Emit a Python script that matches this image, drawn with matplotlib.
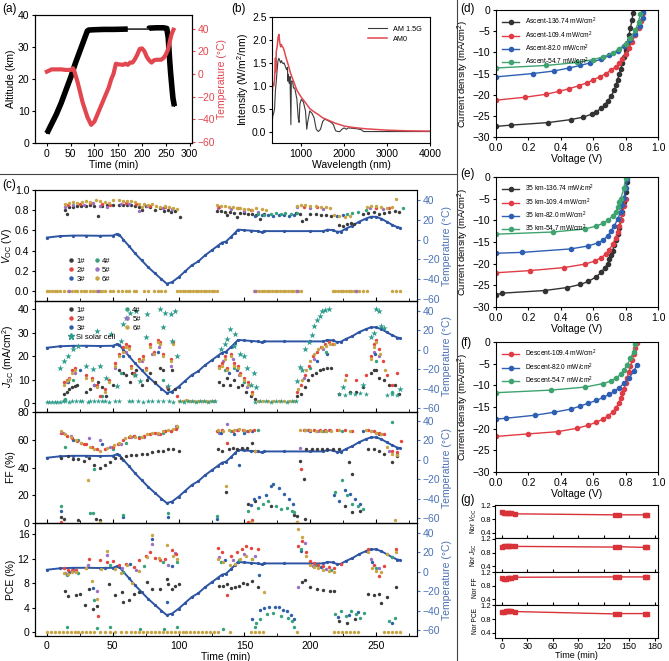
import numpy as np
import matplotlib
matplotlib.use("Agg")
import matplotlib.pyplot as plt
from matplotlib.lines import Line2D

plt.rcParams['font.family'] = ['Liberation Sans', 'DejaVu Sans']
plt.rcParams['mathtext.fontset'] = 'custom'
plt.rcParams['mathtext.rm'] = 'Liberation Sans'
plt.rcParams['mathtext.it'] = 'Liberation Sans:italic'
plt.rcParams['axes.linewidth'] = 0.8

# ---------------- (a) flight profile ----------------
alt_t = [0, 5, 10, 20, 30, 40, 50, 60, 70, 80, 85, 88, 100, 120, 140, 170, 190, 213, 215, 230, 245, 252, 255, 258, 260, 263, 265, 268]
alt_km = [3, 4.5, 6, 9, 12.5, 16.5, 20.5, 25, 29, 33, 35, 35.3, 35.4, 35.5, 35.5, 35.6, np.nan, 35.6, 35.9, 36, 36, 35.8, 33, 26, 22, 17, 14, 11.5]
temp_a_t = [0, 5, 10, 20, 30, 40, 50, 55, 58, 65, 75, 85, 93, 100, 110, 120, 130, 135, 140, 145, 150, 160, 165, 170, 175, 180, 185, 190, 195, 200, 205, 210, 215, 220, 225, 230, 240, 245, 250, 255, 258, 262, 266]
temp_a = [2, 3, 4, 4, 4, 3.5, 3.5, 5, 2, -8, -25, -38, -45, -42, -32, -22, -12, -5, 0, 9, 8.5, 8, 9, 8, 10, 10, 13, 17, 22, 22.5, 20, 15, 12, 10, 12, 12.5, 12.5, 14, 17, 22, 28, 35, 39]

# ---------------- (b) spectra ----------------
am15_wl = [300, 320, 340, 360, 380, 400, 420, 440, 460, 480, 500, 520, 540, 560, 580, 600, 620, 640, 660, 680, 690, 700, 720, 740, 760, 770, 800, 820, 850, 900, 930, 950, 970, 1000, 1050, 1100, 1130, 1150, 1200, 1250, 1300, 1350, 1400, 1450, 1500, 1550, 1600, 1700, 1750, 1800, 1850, 1900, 1950, 2000, 2050, 2100, 2200, 2300, 2400, 2450, 2500, 3000, 4000]
am15_I = [0.0, 0.15, 0.35, 0.4, 0.5, 0.9, 1.1, 1.35, 1.55, 1.6, 1.55, 1.5, 1.55, 1.5, 1.48, 1.5, 1.45, 1.4, 1.35, 1.4, 1.1, 1.25, 1.05, 1.2, 0.15, 1.1, 1.1, 0.95, 0.95, 0.7, 0.3, 0.2, 0.6, 0.7, 0.65, 0.45, 0.05, 0.2, 0.45, 0.4, 0.3, 0.05, 0.0, 0.05, 0.22, 0.27, 0.25, 0.2, 0.15, 0.02, 0.0, 0.0, 0.05, 0.08, 0.05, 0.08, 0.07, 0.06, 0.04, 0.0, 0.0, 0.0, 0.0]
am0_wl = [280, 300, 320, 340, 360, 380, 400, 410, 420, 440, 460, 480, 500, 520, 540, 560, 580, 600, 650, 700, 750, 800, 900, 1000, 1100, 1200, 1300, 1400, 1500, 1600, 1700, 1800, 2000, 2200, 2500, 3000, 3500, 4000]
am0_I = [0.2, 0.5, 0.75, 1.05, 1.0, 1.15, 1.6, 1.3, 1.75, 1.85, 2.05, 2.12, 1.95, 1.85, 1.9, 1.85, 1.83, 1.78, 1.6, 1.45, 1.28, 1.15, 0.9, 0.75, 0.63, 0.5, 0.43, 0.37, 0.3, 0.26, 0.22, 0.18, 0.12, 0.09, 0.06, 0.03, 0.015, 0.01]

# ---------------- (c) in-flight parameters ----------------
temp_c_t = [0, 10, 20, 30, 40, 50, 53, 55, 58, 62, 67, 72, 77, 82, 87, 91, 95, 100, 105, 110, 115, 120, 125, 130, 133, 136, 140, 143, 145, 150, 155, 160, 163, 165, 180, 200, 210, 213, 217, 220, 223, 227, 232, 237, 242, 246, 250, 254, 258, 262, 266, 268]
temp_c = [2, 3.5, 4, 4, 3.8, 4, 5.5, 5, 0, -6, -14, -21, -28, -34, -40, -44.5, -43, -38, -32, -26, -22, -16, -11, -6, -3, -2, 3, 7, 10, 9.5, 9, 8.5, 7.5, 8.5, 8.5, 8.5, 8.5, 10, 9.5, 8, 8, 11, 14, 18, 21, 23, 23, 21, 18, 15, 12.5, 12]

series_names = ['1#', '2#', '3#', '4#', '5#', '6#']
series_colors = ['#3b3b3b', '#e5453e', '#2f5fa8', '#35a27c', '#9a6fc4', '#c9a443']
si_color = '#2e9c8c'
temp_color = '#2d55a3'

voc_1 = [(14, 0.80), (15, 0.76), (17, 0.83), (20, 0.83), (23, 0.84), (26, 0.84), (30, 0.84), (33, 0.85), (36, 0.84), (39, 0.74), (42, 0.84), (46, 0.85), (50, 0.85), (55, 0.85), (58, 0.85), (61, 0.85), (64, 0.85), (67, 0.84), (70, 0.83), (72, 0.80), (75, 0.84), (78, 0.83), (82, 0.80), (86, 0.82), (89, 0.79), (92, 0.80), (94, 0.78), (97, 0.79), (101, 0.73),
         (129, 0.79), (132, 0.79), (135, 0.78), (137, 0.75), (139, 0.78), (142, 0.77), (144, 0.73), (147, 0.77), (150, 0.77), (153, 0.76), (156, 0.76), (159, 0.75), (162, 0.71), (165, 0.76),
         (189, 0.77), (192, 0.76), (194, 0.69), (197, 0.71), (200, 0.76), (204, 0.76), (208, 0.75), (212, 0.75), (216, 0.74), (222, 0.65), (225, 0.64), (228, 0.66), (231, 0.67), (233, 0.66),
         (240, 0.76), (244, 0.77), (248, 0.78), (252, 0.76), (256, 0.77), (260, 0.78), (264, 0.79), (267, 0.78)]
voc_2 = [(16, 0.85), (25, 0.86), (33, 0.87), (42, 0.86), (48, 0.85), (60, 0.87), (68, 0.86), (78, 0.84), (90, 0.83), (131, 0.83), (145, 0.82), (155, 0.80), (195, 0.83), (205, 0.83), (250, 0.82), (260, 0.82)]
voc_3 = [(158, 0.74), (163, 0.75), (168, 0.75), (172, 0.74), (176, 0.75), (180, 0.75), (184, 0.74), (188, 0.75), (220, 0.74), (225, 0.75)]
voc_4 = [(160, 0.76), (165, 0.75), (170, 0.76), (174, 0.77), (178, 0.76), (181, 0.77), (185, 0.76), (190, 0.77), (228, 0.76), (232, 0.77), (236, 0.78), (242, 0.80), (270, 0.82)]
voc_5 = [(14, 0.83), (20, 0.85), (28, 0.85), (35, 0.87), (40, 0.84), (46, 0.83), (56, 0.86), (62, 0.86), (70, 0.79), (76, 0.84), (88, 0.82), (95, 0.81), (130, 0.82), (140, 0.81), (150, 0.79), (160, 0.78), (190, 0.83), (200, 0.82), (210, 0.81), (245, 0.82), (255, 0.81)]
voc_6 = [(14, 0.86), (17, 0.87), (20, 0.88), (23, 0.87), (27, 0.88), (30, 0.89), (33, 0.88), (37, 0.90), (40, 0.89), (44, 0.88), (47, 0.87), (50, 0.90), (55, 0.90), (58, 0.89), (61, 0.89), (64, 0.89), (67, 0.88), (70, 0.86), (72, 0.83), (74, 0.86), (77, 0.85), (80, 0.86), (83, 0.84), (86, 0.83), (90, 0.84), (93, 0.83), (96, 0.82), (99, 0.81),
         (129, 0.85), (132, 0.84), (135, 0.84), (138, 0.83), (141, 0.83), (144, 0.82), (147, 0.82), (150, 0.81), (153, 0.81), (156, 0.80), (159, 0.82), (163, 0.81), (166, 0.80),
         (190, 0.84), (193, 0.85), (196, 0.85), (200, 0.84), (204, 0.84), (208, 0.83), (212, 0.83), (215, 0.82), (218, 0.75), (222, 0.74), (226, 0.73), (230, 0.74),
         (243, 0.83), (246, 0.84), (250, 0.84), (254, 0.83), (258, 0.82), (262, 0.83), (265, 0.91)]
voc_zero_t = [0, 2, 4, 6, 8, 10, 13, 16, 19, 21, 23, 26, 28, 30, 33, 35, 37, 40, 42, 44, 48, 50, 54, 57, 60, 62, 66, 68, 74, 77, 81, 84, 87, 90,
              99, 101, 103, 105, 107, 109, 111, 113, 115, 117, 119, 121, 123, 125, 127, 129,
              157, 159, 161, 163, 165, 167, 169, 171, 173, 175, 177, 179, 181, 183, 185, 187, 189, 191, 193,
              217, 219, 221, 223, 225, 227, 229, 231, 233, 235, 237, 240, 243, 262, 265, 268]
voc_zero_purple_t = [17, 39, 158, 190, 235]

jsc_1 = [(13, 4), (15, 5), (17, 6), (19, 7), (21, 7.5), (23, 8), (30, 5), (33, 6), (36, 8), (39, 9), (42, 7), (45, 3), (50, 8), (55, 14), (58, 13), (60, 12), (63, 9), (65, 13), (68, 14), (72, 8), (76, 10), (78, 13), (82, 9), (86, 15), (88, 14), (92, 6), (95, 14), (97, 6),
         (131, 9), (134, 8), (137, 11), (139, 8), (142, 10), (145, 7), (148, 8), (151, 5), (155, 3), (158, 2),
         (190, 3), (193, 4), (196, 7), (198, 10), (201, 12), (204, 13), (207, 14), (210, 14.5), (213, 15), (216, 15),
         (222, 4), (230, 5), (235, 5), (240, 7), (246, 13), (248, 14), (250, 14), (252, 11), (256, 10), (260, 8), (264, 8), (267, 4)]
jsc_2 = [(13, 9), (15, 10), (17, 11), (19, 14), (21, 15), (30, 12), (34, 11), (38, 8), (40, 3), (44, 6), (47, 10), (52, 17), (55, 21), (58, 24), (60, 25), (62, 24.5), (64, 16), (66, 13), (70, 19), (73, 20), (75, 15), (78, 25), (81, 22), (84, 27), (86, 26), (88, 21), (91, 7), (94, 19), (96, 26), (99, 3),
         (131, 16), (133, 17), (135, 20), (137, 15), (140, 21), (142, 17), (145, 16), (147, 13), (150, 11), (153, 9), (156, 5),
         (190, 5), (193, 8), (196, 12), (199, 16), (202, 20), (205, 22), (208, 24), (211, 25), (214, 26), (217, 25),
         (227, 12), (235, 10), (242, 12), (246, 20), (248, 25), (250, 27), (252, 23), (255, 18), (258, 12), (262, 8), (266, 13)]
jsc_3 = [(16, 9), (25, 14), (58, 20), (84, 22), (138, 13), (144, 14), (205, 18), (213, 21), (249, 21)]
jsc_4 = [(14, 2), (20, 10), (42, 3), (56, 13), (67, 12), (88, 10), (135, 14), (142, 15), (150, 9), (200, 15), (212, 22), (250, 18), (262, 5)]
jsc_5 = [(15, 9), (21, 13), (36, 8), (52, 15), (60, 22), (72, 18), (80, 21), (85, 24), (94, 16), (134, 18), (141, 19), (146, 12), (152, 7), (195, 11), (203, 19), (210, 23), (248, 22), (252, 20)]
jsc_6 = [(13, 8), (15, 9.5), (17, 10.5), (19, 13), (21, 14), (30, 11), (34, 10), (38, 7), (44, 5), (47, 9), (52, 16), (55, 20), (58, 22), (60, 24), (62, 23), (64, 15), (66, 12), (70, 18), (73, 19), (75, 14), (78, 24), (81, 21), (84, 26), (86, 25), (88, 20), (94, 18), (96, 25),
         (131, 15), (133, 16), (135, 19), (137, 14), (140, 20), (142, 16), (145, 15), (147, 12), (150, 10), (153, 8), (156, 4),
         (191, 6), (194, 10), (197, 14), (200, 18), (203, 21), (206, 23), (209, 24), (212, 24.5), (215, 25), (218, 25),
         (226, 10), (246, 19), (248, 24), (250, 26), (253, 21), (257, 14)]
jsc_6_base = [(100, 1.2), (103, 1.0), (106, 1.3), (109, 1.1), (112, 1.0), (115, 1.2), (118, 1.1), (121, 1.0), (124, 1.2), (127, 1.1), (160, 1.0), (164, 1.2), (168, 0.9), (172, 1.1), (176, 1.0), (180, 1.1), (184, 0.9), (188, 1.0)]
jsc_si = [(10, 15), (13, 18), (16, 20), (20, 23), (24, 24.5), (30, 16), (35, 14.5), (38, 30.5), (40, 16), (45, 11), (49, 29.5), (53, 7.5), (56, 26.5), (58, 33.5), (60, 36), (63, 38.5), (67, 12), (68, 39), (71, 9.5), (75, 28), (76, 38), (86, 40), (88, 32.5), (90, 38.5), (92, 7.5), (94, 38), (95, 26.5), (97, 39), (99, 20),
          (132, 23), (135, 25), (137, 27.5), (139, 31.7), (142, 24.5), (143, 29.5), (147, 21), (150, 20), (152, 15), (155, 8), (157, 13), (159, 7),
          (190, 9.5), (192, 15.5), (194, 14), (196, 23), (199, 26), (201, 29), (203, 33), (205, 35.5), (207, 37), (209, 39), (211, 39.5), (214, 40),
          (225, 7), (240, 8), (246, 28), (248, 29.8), (250, 40), (252, 39), (254, 33), (256, 32), (268, 6)]
jsc_si_base = [(0, 0.5), (2, 0.6), (4, 0.5), (6, 0.7), (8, 0.8), (10, 0.6), (12, 0.9), (14, 1.0), (17, 0.8), (19, 0.9), (22, 1.0), (25, 0.9), (27, 1.0), (31, 0.8), (33, 0.9), (36, 1.0), (39, 0.9), (42, 0.9), (44, 1.0), (47, 0.8), (52, 1.1), (55, 0.9), (62, 1.0), (65, 0.9), (69, 1.0), (73, 0.8), (77, 1.0), (80, 0.9), (84, 1.0), (88, 0.9), (93, 1.0), (96, 0.8),
               (101, 0.9), (104, 0.8), (107, 1.0), (110, 0.9), (113, 0.8), (116, 1.0), (119, 0.9), (122, 0.8), (125, 1.0), (128, 0.9), (158, 0.8), (162, 0.9), (166, 1.0), (170, 0.8), (174, 0.9), (178, 1.0), (182, 0.8), (186, 0.9), (189, 1.0),
               (222, 4.2), (226, 3.8), (230, 4.5), (234, 3.9), (238, 4.3), (242, 4.0), (258, 3.5), (262, 4.2), (266, 3.7)]

ff_1 = [(11, 47), (16, 48), (20, 46), (24, 46), (28, 45), (32, 47), (36, 42), (40, 40), (44, 42), (48, 44), (52, 47), (56, 47), (60, 48), (64, 49), (68, 49), (72, 50), (76, 50), (80, 51), (84, 52), (88, 52), (92, 53), (96, 53), (100, 52),
        (130, 53), (133, 52), (136, 22), (138, 53), (141, 54), (144, 53), (148, 54), (152, 54), (156, 58), (158, 52),
        (192, 45), (195, 32), (197, 53), (201, 53), (205, 53), (209, 53), (213, 53), (217, 53), (222, 53), (229, 44), (232, 35), (244, 53), (248, 53), (252, 52), (256, 50), (262, 44), (266, 48),
        (11, 4), (13, 3), (24, 2), (37, 3), (40, 2), (153, 14), (158, 16), (170, 12), (188, 6), (190, 5), (196, 3), (226, 12), (232, 8), (238, 9)]
ff_2 = [(11, 65), (15, 63), (19, 61), (23, 59), (28, 57), (30, 57), (34, 55), (38, 53), (44, 53), (50, 55), (54, 57), (58, 60), (62, 62), (66, 63), (70, 61), (74, 63), (78, 64), (82, 65), (86, 64), (90, 66), (94, 66), (98, 68),
        (129, 66), (133, 67), (137, 58), (141, 66), (145, 67), (149, 67), (153, 66), (157, 67),
        (193, 39), (195, 67), (199, 67), (203, 67), (207, 67), (211, 67), (215, 67), (220, 67), (226, 67), (232, 66), (244, 67), (248, 66), (252, 65), (256, 64), (262, 52), (266, 51), (269, 59),
        (11, 1), (153, 1), (156, 2), (190, 1)]
ff_3 = [(20, 60), (42, 57), (66, 63), (90, 66), (132, 65), (142, 64), (146, 42), (150, 65), (156, 66), (200, 66), (212, 66), (240, 66), (252, 64),
        (11, 9), (58, 4), (92, 4), (129, 3), (155, 13), (157, 17), (161, 19), (166, 20), (170, 27), (172, 28), (176, 25), (180, 21), (184, 17), (187, 14), (218, 20), (222, 16), (226, 24), (230, 21), (234, 17), (238, 14)]
ff_4 = [(14, 55), (24, 60), (36, 39), (50, 53), (60, 58), (70, 62), (88, 65), (99, 69), (130, 66), (140, 66), (150, 66), (160, 67), (196, 67), (210, 66), (224, 66), (250, 65), (262, 73), (266, 50),
        (11, 12), (33, 7), (35, 7), (58, 6), (92, 7), (129, 5), (153, 9), (160, 11), (164, 14), (168, 16), (174, 12), (178, 10), (182, 11), (186, 9), (188, 8), (219, 22), (224, 31), (228, 20), (232, 14), (236, 12), (240, 10)]
ff_5 = [(12, 65), (18, 63), (26, 58), (32, 61), (40, 60), (48, 55), (56, 57), (64, 62), (74, 62), (84, 64), (94, 66), (98, 70), (131, 65), (137, 71), (144, 67), (152, 66), (192, 54), (198, 67), (206, 66), (214, 67), (246, 66), (254, 64), (260, 52)]
ff_6 = [(11, 66), (14, 64), (18, 62), (22, 60), (26, 58), (31, 31), (33, 55), (36, 53), (40, 52), (46, 54), (51, 56), (55, 58), (59, 61), (63, 63), (67, 62), (72, 62), (76, 64), (80, 65), (84, 65), (88, 66), (92, 67), (96, 68), (99, 70),
        (130, 67), (134, 66), (136, 27), (138, 67), (142, 67), (146, 68), (150, 67), (154, 67), (158, 52),
        (192, 67), (196, 67), (200, 67), (204, 66), (208, 66), (212, 66), (216, 66), (222, 67), (230, 66), (242, 67), (246, 66), (250, 65), (254, 64), (258, 55), (262, 50), (266, 49),
        (40, 1), (155, 0.5), (190, 0.5), (264, 2)]

pce_1 = [(14, 6.7), (16, 5.9), (22, 6.1), (25, 6.3), (29, 4.5), (32, 7.0), (35, 3.8), (38, 4.3), (47, 7.8), (52, 6.1), (57, 6.6), (58, 5.0), (62, 5.2), (66, 6.3), (70, 6.6), (76, 8.2), (80, 7.1), (86, 7.1), (91, 8.7), (92, 7.8), (95, 7.0), (97, 7.6), (100, 7.8),
         (131, 7.6), (134, 7.5), (137, 7.8), (140, 7.2), (143, 7.3), (146, 7.6), (149, 8.0), (152, 7.8), (156, 8.4), (160, 7.4),
         (194, 8.2), (196, 8.5), (200, 7.4), (205, 7.0), (210, 6.9), (215, 6.8), (218, 6.7), (222, 1.8), (228, 1.5), (234, 2.2), (244, 6.2), (248, 6.1), (252, 6.2), (254, 4.7), (258, 5.8), (265, 7.4)]
pce_2 = [(13, 10.4), (16, 10.2), (19, 10.1), (22, 10.2), (32, 11.9), (39, 2.6), (40, 11.8), (46, 11.4), (50, 11.6), (55, 11.0), (60, 11.2), (66, 10.6), (70, 11.8), (75, 12.5), (78, 13.0), (82, 12.1), (86, 11.7), (90, 12.0), (95, 13.4), (98, 12.8),
         (130, 13.8), (133, 13.0), (137, 6.0), (140, 12.5), (144, 13.0), (148, 13.5), (151, 14.0), (155, 13.7), (160, 13.6),
         (191, 14.0), (194, 14.9), (197, 13.0), (200, 11.6), (203, 11.3), (206, 11.0), (210, 10.8), (214, 10.6), (218, 10.4), (223, 11.2), (244, 13.5), (248, 11.0), (252, 9.2), (256, 10.8), (265, 13.6)]
pce_3 = [(17, 9.8), (35, 7.2), (44, 10.5), (63, 11.2), (80, 15.2), (91, 4.9), (95, 10.8), (135, 11.8), (145, 11.4), (161, 9.4), (193, 13.3), (208, 10.6), (247, 11.5),
         (156, 2.2), (162, 3.6), (165, 3.9), (169, 4.1), (173, 4.1), (176, 4.1), (179, 3.7), (182, 3.4), (185, 2.8), (188, 2.2), (221, 2.5), (229, 2.8), (236, 3.3), (262, 1.5)]
pce_4 = [(15, 9.4), (24, 9.6), (36, 5.3), (48, 11.0), (58, 9.8), (74, 10.8), (88, 11.5), (99, 11.4), (132, 11.5), (146, 11.8), (156, 11.9), (193, 13.5), (204, 10.9), (216, 10.2), (250, 10.4), (262, 12.2),
         (15, 0.9), (38, 0.7), (48, 0.8), (71, 0.5), (89, 0.6), (99, 0.8), (134, 0.6), (158, 0.8), (159, 1.5), (162, 2.2), (167, 3.0), (172, 3.2), (178, 2.6), (183, 2.4), (186, 1.8), (188, 0.9), (219, 3.0), (223, 3.4), (227, 2.6), (231, 3.5), (235, 3.0), (238, 2.4), (241, 3.1), (260, 1.8), (264, 2.3)]
pce_5 = [(14, 9.6), (21, 10.0), (31, 11), (38, 6.8), (46, 12.6), (57, 10.4), (68, 10.2), (80, 14.4), (92, 11.0), (97, 12.9), (131, 12.3), (141, 11.8), (150, 12.8), (158, 12.4), (191, 7.4), (196, 14.5), (202, 10.8), (212, 10.3), (246, 12.0), (252, 10.5)]
pce_6 = [(13, 9.7), (16, 9.5), (19, 9.8), (22, 9.9), (30, 10.5), (34, 8.3), (38, 5.5), (41, 10.3), (46, 13.3), (52, 10.3), (56, 9.6), (61, 11), (65, 8.0), (70, 10), (76, 12.2), (80, 15.9), (85, 12.1), (91, 14.2), (96, 12.5), (99, 12.0),
         (130, 12.0), (134, 11.5), (139, 11.0), (143, 11.2), (147, 12.0), (151, 12.5), (156, 12.0), (165, 6.5),
         (191, 16.8), (194, 15.6), (197, 12.5), (200, 11.0), (203, 10.6), (206, 10.4), (210, 10.2), (214, 10.0), (218, 9.8), (244, 13.1), (247, 10.5), (250, 10.0), (254, 9.8), (258, 12.8), (265, 13.0)]
pce_zero_t = [0, 3, 6, 9, 12, 15, 18, 21, 24, 27, 30, 33, 36, 40, 44, 48, 52, 56, 60, 64, 67, 70, 73, 76, 79, 82, 85, 88, 91, 94, 97, 100, 103, 106, 109, 112, 115, 118, 121, 124, 127, 130, 139,
              155, 158, 161, 164, 190, 218, 221, 224, 227, 230, 233, 236, 256, 259, 262, 265, 268]

# ---------------- (d)-(f) J-V curves ----------------
asc_labels = ['Ascent-136.74 mW/cm$^2$', 'Ascent-109.4 mW/cm$^2$', 'Ascent-82.0 mW/cm$^2$', 'Ascent-54.7 mW/cm$^2$']
asc_v = [
    [0, 0.09, 0.32, 0.46, 0.54, 0.59, 0.62, 0.65, 0.67, 0.69, 0.71, 0.73, 0.74, 0.75, 0.76, 0.77, 0.78, 0.79, 0.80, 0.81, 0.82, 0.83, 0.84, 0.845],
    [0, 0.18, 0.31, 0.39, 0.45, 0.51, 0.56, 0.60, 0.64, 0.68, 0.71, 0.74, 0.76, 0.78, 0.80, 0.82, 0.84, 0.86, 0.88, 0.895, 0.905],
    [0, 0.23, 0.36, 0.45, 0.52, 0.58, 0.65, 0.70, 0.75, 0.79, 0.83, 0.86, 0.89, 0.905, 0.91],
    [0, 0.31, 0.50, 0.60, 0.66, 0.72, 0.76, 0.80, 0.83, 0.86, 0.88, 0.89]]
asc_j = [
    [-27.5, -27.2, -26.6, -25.9, -25.3, -24.6, -24.0, -23.2, -22.4, -21.5, -20.3, -19.0, -17.8, -16.5, -15.2, -13.9, -12.5, -11.0, -9.5, -7.8, -6.0, -4.2, -2.3, -0.8],
    [-21.3, -20.6, -19.9, -19.2, -18.6, -17.9, -17.2, -16.5, -15.8, -15.0, -14.2, -13.4, -12.6, -11.5, -10.3, -9.0, -7.5, -5.9, -4.2, -2.5, -0.8],
    [-15.8, -15.0, -14.4, -13.7, -13.1, -12.5, -11.6, -10.7, -9.7, -8.5, -7.2, -5.6, -3.7, -1.8, -0.5],
    [-13.7, -13.1, -12.4, -11.7, -11.1, -10.2, -9.2, -8.0, -6.5, -4.8, -2.8, -1.0]]

km35_labels = ['35 km-136.74 mW/cm$^2$', '35 km-109.4 mW/cm$^2$', '35 km-82.0 mW/cm$^2$', '35 km-54.7 mW/cm$^2$']
km35_v = [
    [0, 0.04, 0.30, 0.44, 0.52, 0.57, 0.62, 0.65, 0.67, 0.69, 0.70, 0.71, 0.72, 0.73, 0.74, 0.75, 0.76, 0.77, 0.78, 0.79, 0.80, 0.81],
    [0, 0.21, 0.42, 0.55, 0.61, 0.65, 0.68, 0.70, 0.72, 0.74, 0.75, 0.76, 0.77, 0.78, 0.79, 0.80],
    [0, 0.16, 0.46, 0.57, 0.63, 0.66, 0.69, 0.71, 0.73, 0.75, 0.77, 0.78, 0.79, 0.80, 0.81],
    [0, 0.35, 0.55, 0.62, 0.66, 0.69, 0.72, 0.74, 0.75, 0.76, 0.77, 0.79, 0.80]]
km35_j = [
    [-27.2, -26.8, -26.2, -25.5, -24.8, -24.1, -23.0, -22.0, -21.0, -20.0, -19.0, -18.0, -17.0, -15.8, -14.6, -13.2, -11.8, -10.0, -8.0, -5.8, -3.5, -1.2],
    [-22.1, -21.6, -20.9, -20.1, -19.4, -18.6, -17.7, -16.8, -15.5, -14.0, -12.8, -11.4, -10.0, -8.5, -6.8, -5.0],
    [-17.6, -17.4, -16.6, -15.9, -15.2, -14.6, -13.6, -12.5, -11.3, -9.8, -8.0, -6.4, -4.8, -2.5, -0.5],
    [-13.2, -12.7, -12.0, -11.3, -10.7, -10.0, -9.0, -8.0, -7.0, -5.8, -5.0, -2.5, -0.2]]

desc_labels = ['Descent-109.4 mW/cm$^2$', 'Descent-82.0 mW/cm$^2$', 'Descent-54.7 mW/cm$^2$']
desc_v = [
    [0, 0.20, 0.38, 0.50, 0.57, 0.62, 0.66, 0.69, 0.72, 0.74, 0.76, 0.77, 0.78, 0.79, 0.80, 0.81, 0.82, 0.83, 0.84, 0.85, 0.86, 0.87],
    [0, 0.06, 0.24, 0.36, 0.46, 0.52, 0.57, 0.62, 0.66, 0.70, 0.73, 0.76, 0.79, 0.82, 0.85, 0.87],
    [0, 0.34, 0.55, 0.66, 0.71, 0.74, 0.77, 0.79, 0.81, 0.83, 0.85, 0.86]]
desc_j = [
    [-21.8, -21.2, -20.7, -19.9, -19.2, -18.5, -17.8, -17.1, -16.2, -15.2, -14.0, -13.0, -11.8, -10.8, -9.5, -8.2, -7.0, -5.6, -4.2, -2.8, -1.3, -0.3],
    [-17.8, -17.6, -16.9, -16.2, -15.5, -14.8, -14.1, -13.5, -12.8, -12.1, -11.4, -10.6, -9.5, -8.4, -6.8, -5.2],
    [-11.7, -11.1, -10.4, -9.6, -9.0, -8.3, -7.5, -6.5, -5.3, -3.8, -2.2, -0.5]]

# ---------------- (g) normalized stability ----------------
norm_t = [0, 3, 5, 7, 9, 11, 15, 133, 138, 169, 171]
nor_voc = [1.0, 0.99, 0.98, 0.98, 0.97, 0.97, 0.96, 0.93, 0.93, 0.93, 0.93]
nor_jsc = [0.97, 0.98, 1.0, 1.0, 0.99, 0.99, 0.98, 0.96, 0.97, 0.95, 0.96]
nor_ff = [1.03, 1.0, 1.0, 1.04, 1.04, 1.03, 1.05, 1.06, 1.06, 1.06, 1.07]
nor_pce = [1.0, 1.01, 1.03, 1.04, 1.04, 1.03, 1.02, 0.95, 0.96, 0.96, 0.96]

W, H = 669, 661
FS = 7.5      # tick / axis label size
TAG = 8.5     # panel letters


def rect(l, t, r, b):
    return [l / W, 1 - b / H, (r - l) / W, (b - t) / H]


def pts(data):
    a = np.array(data, dtype=float)
    return a[:, 0], a[:, 1]


fig = plt.figure(figsize=(6.69, 6.61), dpi=100)
fig.add_artist(Line2D([0, 457 / W], [1 - 174 / H] * 2, color='#444444', lw=0.8))
fig.add_artist(Line2D([457 / W] * 2, [0, 1], color='#444444', lw=0.8))

# (a)
ax = fig.add_axes(rect(35, 15, 192, 143))
t = np.array(alt_t, dtype=float)
alt = np.array(alt_km, dtype=float)
ok = ~np.isnan(alt)
ax.plot(t[ok], alt[ok], color='k', lw=1)
ax.plot(t, alt, color='k', lw=4, solid_capstyle='butt')
ax.set_xlim(-25, 305)
ax.set_ylim(0, 40)
ax.set_xticks(range(0, 301, 50))
ax.set_xlabel('Time (min)', fontsize=FS, labelpad=1)
ax.set_ylabel('Altitude (km)', fontsize=FS, labelpad=1)
ax.tick_params(labelsize=FS, length=2.5, pad=1.5)
ax2 = ax.twinx()
ax2.plot(temp_a_t, temp_a, color='#e2474f', lw=3)
ax2.set_ylim(-61, 52)
ax2.set_yticks(range(-60, 41, 20))
ax2.tick_params(axis='y', colors='#e2474f', labelsize=FS, length=2.5, pad=1.5)
ax2.set_ylabel('Temperature (°C)', color='#e2474f', fontsize=FS, labelpad=1)
fig.text(2 / W, 1 - 12 / H, '(a)', fontsize=TAG)

# (b)
ax = fig.add_axes(rect(272, 17, 430, 143))
ax.plot(am15_wl, am15_I, color='#3a3a3a', lw=0.8, label='AM 1.5G')
ax.plot(am0_wl, am0_I, color='#e0474f', lw=1.1, label='AM0')
ax.set_xlim(320, 4000)
ax.set_ylim(-0.25, 2.5)
ax.set_xticks([1000, 2000, 3000, 4000])
ax.set_yticks([0, 0.5, 1.0, 1.5, 2.0, 2.5])
ax.set_yticklabels(['0.0', '0.5', '1.0', '1.5', '2.0', '2.5'])
ax.set_xlabel('Wavelength (nm)', fontsize=FS, labelpad=1)
ax.set_ylabel('Intensity (W/m$^2$/nm)', fontsize=FS, labelpad=1)
ax.tick_params(labelsize=FS, length=2.5, pad=1.5)
ax.legend(loc='upper right', frameon=False, fontsize=5.2, handlelength=2.6, borderaxespad=0.8, labelspacing=0.4)
fig.text(231 / W, 1 - 12 / H, '(b)', fontsize=TAG)

# (c)
fig.text(2 / W, 1 - 188 / H, '(c)', fontsize=TAG)
c_rows = [(190, 301), (301, 412), (412, 523), (523, 636)]
c_data = [
    [voc_1, voc_2, voc_3, voc_4, voc_5, voc_6],
    [jsc_1, jsc_2, jsc_3, jsc_4, jsc_5, jsc_6],
    [ff_1, ff_2, ff_3, ff_4, ff_5, ff_6],
    [pce_1, pce_2, pce_3, pce_4, pce_5, pce_6]]
c_ylabels = [r'$V_{\mathrm{OC}}$ (V)', r'$J_{\mathrm{SC}}$ (mA/cm$^2$)', 'FF (%)', 'PCE (%)']
c_ylims = [(-0.1, 1.0), (-3.6, 43.4), (0, 80), (-0.6, 17.8)]
c_yticks = [[0.0, 0.2, 0.4, 0.6, 0.8, 1.0], [0, 10, 20, 30, 40], [0, 20, 40, 60, 80], [0, 4, 8, 12, 16]]
temp_lims = [(-62, 50), (-64, 50), (-65, 49), (-66, 50)]
draw_order = [0, 4, 2, 3, 1, 5]
for i, (top, bot) in enumerate(c_rows):
    ax = fig.add_axes(rect(35, top, 417, bot))
    axt = ax.twinx()
    axt.plot(temp_c_t, temp_c, color=temp_color, lw=1.4, marker='o', ms=1.3, zorder=1)
    axt.set_ylim(*temp_lims[i])
    axt.set_yticks(range(-60, 41, 20))
    axt.tick_params(axis='y', colors='#4a72b5', labelsize=FS, length=2.5, pad=1.5)
    axt.spines['right'].set_color('#8aa6d0')
    axt.set_ylabel('Temperature (°C)', color='#4a72b5', fontsize=FS, labelpad=1)
    axt.set_zorder(ax.get_zorder() - 1)
    ax.patch.set_visible(False)
    for k in draw_order:
        x, y = pts(c_data[i][k])
        ax.scatter(x, y, s=6, color=series_colors[k], lw=0, zorder=3)
    if i == 0:
        zt = np.array(voc_zero_t, dtype=float)
        ax.scatter(zt, [0.0] * len(zt), s=6, color=series_colors[5], lw=0, zorder=3)
        ax.scatter(voc_zero_purple_t, [0.0] * len(voc_zero_purple_t), s=6, color=series_colors[4], lw=0, zorder=4)
        hs = [Line2D([], [], ls='', marker='o', ms=2.2, color=c) for c in series_colors]
        ax.legend(hs, series_names, ncol=2, loc='lower left', bbox_to_anchor=(0.07, 0.1), frameon=False,
                  fontsize=5.5, handlelength=0.7, handletextpad=0.3, columnspacing=1.2, labelspacing=0.25)
    if i == 1:
        x, y = pts(jsc_6_base)
        ax.scatter(x, y, s=6, color=series_colors[5], lw=0, zorder=3)
        x, y = pts(jsc_si_base)
        ax.scatter(x, y, s=16, marker='*', color=si_color, lw=0, zorder=3)
        x, y = pts(jsc_si)
        ax.scatter(x, y, s=24, marker='*', color=si_color, lw=0, zorder=4)
        hs = [Line2D([], [], ls='', marker='o', ms=2.2, color=c) for c in series_colors[:3]]
        hs.append(Line2D([], [], ls='', marker='*', ms=4.5, color=si_color))
        hs += [Line2D([], [], ls='', marker='o', ms=2.2, color=c) for c in series_colors[3:]]
        labs = series_names[:3] + ['Si solar cell'] + series_names[3:]
        ax.legend(hs, labs, ncol=2, loc='upper left', bbox_to_anchor=(0.07, 1.01), frameon=False,
                  fontsize=5.5, handlelength=0.7, handletextpad=0.3, columnspacing=1.2, labelspacing=0.2)
    if i == 3:
        zt = np.array(pce_zero_t, dtype=float)
        ax.scatter(zt, [0.0] * len(zt), s=6, color=series_colors[5], lw=0, zorder=3)
    ax.set_xlim(-9, 281)
    ax.set_ylim(*c_ylims[i])
    ax.set_yticks(c_yticks[i])
    if i == 0:
        ax.set_yticklabels(['0.0', '0.2', '0.4', '0.6', '0.8', '1.0'])
    ax.set_xticks(range(0, 251, 50))
    ax.set_xticks(range(0, 276, 25), minor=True)
    ax.tick_params(axis='x', direction='in', length=3, labelsize=FS)
    ax.tick_params(axis='x', which='minor', direction='in', length=2)
    ax.tick_params(axis='y', labelsize=FS, length=2.5, pad=1.5)
    ax.set_ylabel(c_ylabels[i], fontsize=FS, labelpad=1)
    if i < 3:
        ax.tick_params(axis='x', labelbottom=False)
    else:
        ax.set_xlabel('Time (min)', fontsize=FS, labelpad=1)

# (d)-(f)
jv_colors = ['#333333', '#e03c45', '#2f5fb3', '#3ea36f']
jv_panels = [
    ((496, 10, 658, 137), asc_v, asc_j, asc_labels, jv_colors, '(d)', 12),
    ((496, 177, 658, 307), km35_v, km35_j, km35_labels, jv_colors, '(e)', 177),
    ((496, 342, 658, 472), desc_v, desc_j, desc_labels, jv_colors[1:], '(f)', 346)]
for box, vs, js, labs, cols, tag, ty in jv_panels:
    ax = fig.add_axes(rect(*box))
    for v, j, lab, c in zip(vs, js, labs, cols):
        ax.plot(v, j, color=c, lw=1, marker='o', ms=3, label=lab)
    ax.set_xlim(0, 1.0)
    ax.set_ylim(-30, 0)
    ax.set_xticks([0, 0.2, 0.4, 0.6, 0.8, 1.0])
    ax.set_xticklabels(['0.0', '0.2', '0.4', '0.6', '0.8', '1.0'])
    ax.set_yticks(range(-30, 1, 5))
    ax.tick_params(labelsize=FS, length=2.5, pad=1.5)
    ax.set_xlabel('Voltage (V)', fontsize=FS, labelpad=1)
    ax.set_ylabel('Current density (mA/cm$^2$)', fontsize=6.8, labelpad=1)
    ax.legend(loc='upper left', frameon=False, fontsize=4.8, handlelength=2.6, labelspacing=0.3, borderaxespad=0.5)
    fig.text(460 / W, 1 - ty / H, tag, fontsize=TAG)

# (g)
fig.text(460 / W, 1 - 503 / H, '(g)', fontsize=TAG)
g_vals = [nor_voc, nor_jsc, nor_ff, nor_pce]
g_labels = [r'Nor $V_{\mathrm{OC}}$', r'Nor $J_{\mathrm{SC}}$', 'Nor FF', 'Nor PCE']
g_edges = [505, 538.25, 571.5, 604.75, 638]
for i in range(4):
    ax = fig.add_axes(rect(495, g_edges[i], 658, g_edges[i + 1]))
    ax.plot(norm_t, g_vals[i], color='#d9333a', lw=1, marker='s', ms=2.8)
    ax.set_xlim(-8, 184)
    ax.set_ylim(0.24, 1.22)
    ax.set_yticks([0.4, 0.8, 1.2])
    ax.set_xticks(range(0, 181, 30))
    ax.tick_params(labelsize=5.5, length=2, pad=1)
    ax.set_ylabel(g_labels[i], fontsize=4.8, labelpad=1)
    if i < 3:
        ax.tick_params(axis='x', labelbottom=False, direction='in')
    else:
        ax.tick_params(axis='x', labelsize=6.5)
        ax.set_xlabel('Time (min)', fontsize=6.5, labelpad=0)

fig.savefig('out.png', dpi=100)
